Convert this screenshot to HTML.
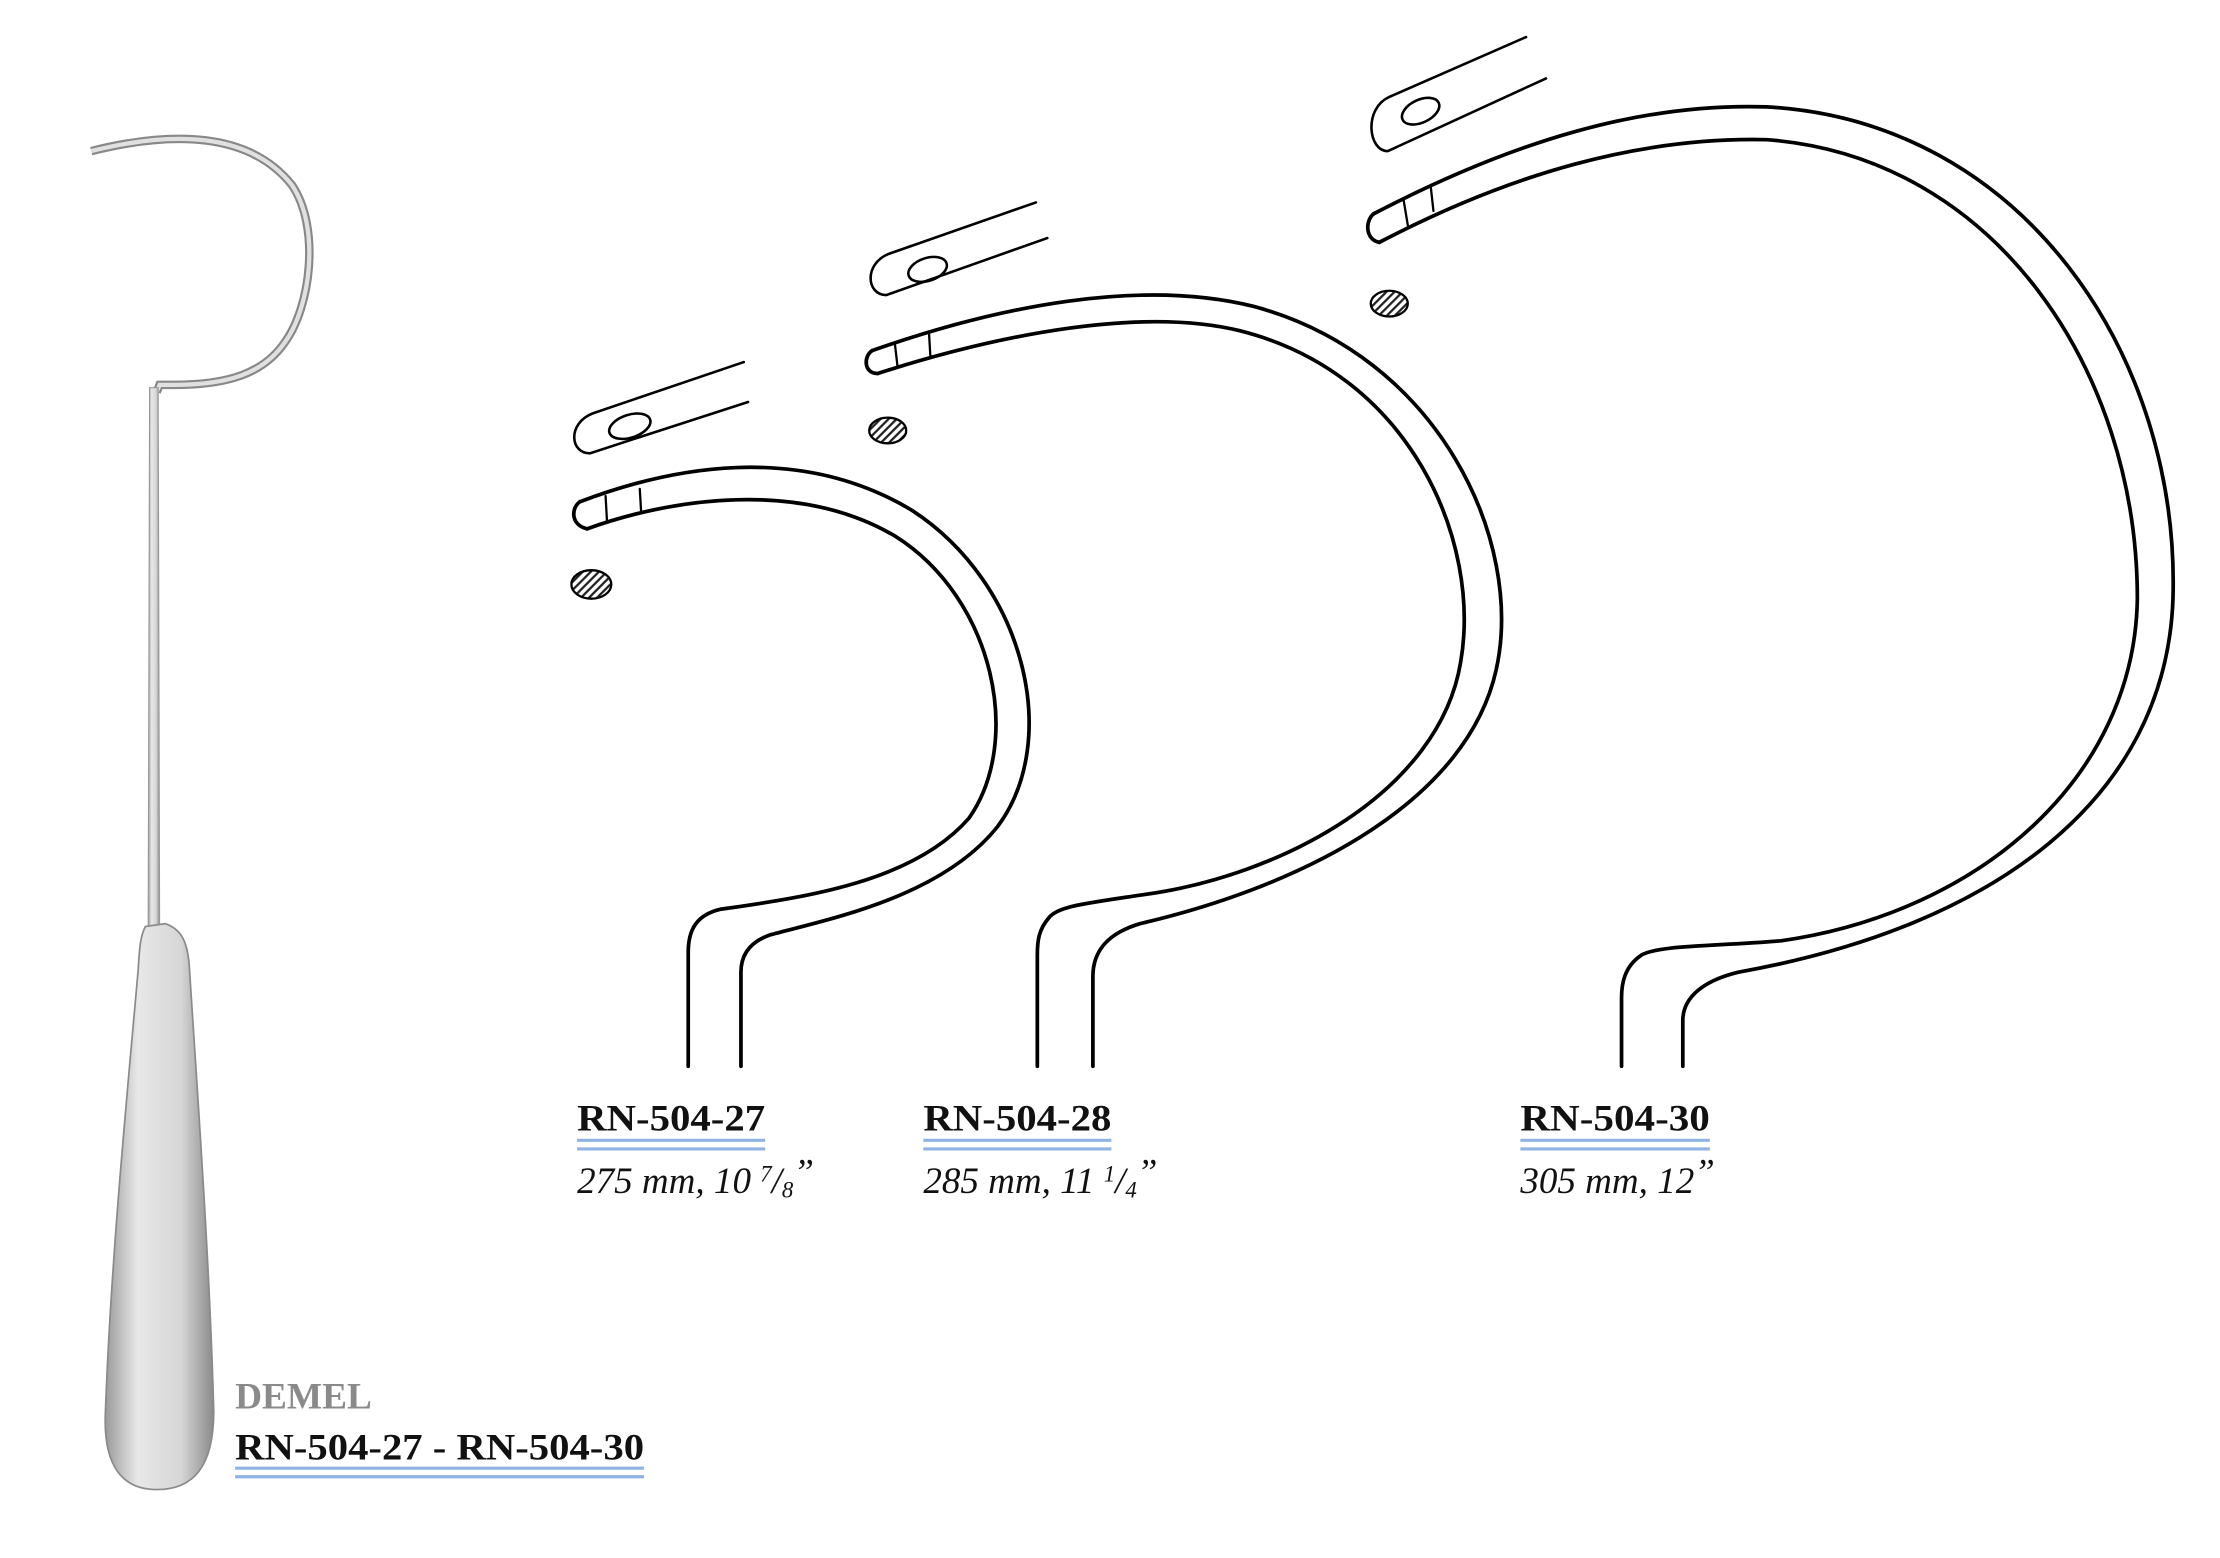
<!DOCTYPE html>
<html><head><meta charset="utf-8"><style>
html,body{margin:0;padding:0;background:#fff;}
svg{display:block;}
.t{font-family:"Liberation Serif",serif;}
</style></head><body>
<svg width="2220" height="1558" viewBox="0 0 1558 1093" preserveAspectRatio="none" xmlns="http://www.w3.org/2000/svg">
<defs>
<pattern id="h" width="4" height="4" patternUnits="userSpaceOnUse" patternTransform="rotate(45)"><rect width="4" height="4" fill="#fff"/><rect width="1.6" height="4" fill="#222"/></pattern>
<linearGradient id="g" x1="0" x2="1" y1="0" y2="0"><stop offset="0" stop-color="#9a9a9a"/><stop offset="0.3" stop-color="#e8e8e8"/><stop offset="0.7" stop-color="#d6d6d6"/><stop offset="1" stop-color="#8a8a8a"/></linearGradient>
</defs>
<rect width="1558" height="1093" fill="#fff"/>
<g>
<path d="M64,106 C120,92 175,92 205,130 C225,160 218,215 200,240 C185,262 160,270 122,270 L112,270 L110,275" fill="none" stroke="#888" stroke-width="6"/>
<path d="M64,106 C120,92 175,92 205,130 C225,160 218,215 200,240 C185,262 160,270 122,270 L112,270 L110,275" fill="none" stroke="#e0e0e0" stroke-width="3"/>
<path d="M105,272 L111,272 L112,650 L104,650 Z" fill="url(#g)" stroke="#999" stroke-width="0.8"/>
<path d="M102,650 C99,656 98,662 97,680 C90,760 78,880 74,990 C72,1030 87,1045 110,1045 C135,1045 150,1030 150,990 C147,880 138,760 133,680 C132,662 128,652 116,648 Z" fill="url(#g)" stroke="#8a8a8a" stroke-width="1.2"/>
</g>
<g fill="none" stroke="#000" stroke-width="2.6" stroke-linecap="round">
<!-- 27 -->
<path d="M407,352 C470,328 560,310 640,358 C720,410 745,520 700,580 C660,630 580,645 540,656 C526,661 520,670 520,682 L520,748"/>
<path d="M412,371 C470,350 560,336 628,376 C698,420 718,520 680,574 C640,620 560,630 505,638 C489,642 483,652 483,668 L483,748"/>
<path d="M407,352 C401,356 400,368 412,371"/>
<path d="M425,348 L426,366 M449,343 L450,360" stroke-width="1.6"/>
<path d="M522,254 L416,290 C398,297 400,318 414,318 L525,282" stroke-width="1.8"/>
<ellipse cx="442" cy="299" rx="15" ry="8" transform="rotate(-18 442 299)" stroke-width="1.8"/>
<!-- 28 -->
<path d="M612,246 C700,215 800,195 880,215 C1010,250 1070,380 1050,470 C1030,560 920,620 800,648 C780,654 767,665 767,685 L767,748"/>
<path d="M616,262 C700,235 800,215 870,232 C990,262 1040,380 1025,465 C1010,555 900,615 800,628 C760,634 742,636 736,644 C729,652 728,660 728,670 L728,748"/>
<path d="M612,246 C606,250 606,262 616,262"/>
<path d="M628,241 L630,258 M652,234 L653,251" stroke-width="1.6"/>
<path d="M727,142 L624,178 C606,185 608,207 622,207 L735,167" stroke-width="1.8"/>
<ellipse cx="651" cy="189" rx="14" ry="8" transform="rotate(-18 651 189)" stroke-width="1.8"/>
<!-- 30 -->
<path d="M964,150 C1060,100 1150,72 1240,75 C1420,85 1530,250 1525,420 C1520,560 1400,650 1220,682 C1195,688 1181,700 1181,716 L1181,748"/>
<path d="M968,170 C1060,122 1150,96 1240,98 C1400,110 1500,260 1500,420 C1498,545 1390,640 1250,660 C1200,664 1165,663 1152,670 C1140,678 1138,690 1138,700 L1138,748"/>
<path d="M964,150 C958,155 958,168 968,170"/>
<path d="M985,140 L988,158 M1004,130 L1006,148" stroke-width="1.6"/>
<path d="M1071,26 L975,68 C957,76 960,106 974,106 L1085,55" stroke-width="1.8"/>
<ellipse cx="997" cy="78" rx="14" ry="8" transform="rotate(-25 997 78)" stroke-width="1.8"/>
</g>
<g stroke="#000" stroke-width="1.6">
<ellipse cx="415" cy="410" rx="14" ry="10" fill="url(#h)"/>
<ellipse cx="623" cy="302" rx="13" ry="9" fill="url(#h)"/>
<ellipse cx="975" cy="213" rx="13" ry="9" fill="url(#h)"/>
</g>
<g class="t">
<text x="405" y="793" font-size="26" font-weight="bold" fill="#111" textLength="132" lengthAdjust="spacingAndGlyphs">RN-504-27</text>
<text x="648" y="793" font-size="26" font-weight="bold" fill="#111" textLength="132" lengthAdjust="spacingAndGlyphs">RN-504-28</text>
<text x="1067" y="793" font-size="26" font-weight="bold" fill="#111" textLength="133" lengthAdjust="spacingAndGlyphs">RN-504-30</text>
<text x="405" y="837" font-size="26" font-style="italic" fill="#111">275 mm, 10 <tspan font-size="16" dy="-8">7</tspan><tspan dy="8">/</tspan><tspan font-size="16" dy="3">8</tspan><tspan dy="-9">”</tspan></text>
<text x="648" y="837" font-size="26" font-style="italic" fill="#111">285 mm, 11 <tspan font-size="16" dy="-8">1</tspan><tspan dy="8">/</tspan><tspan font-size="16" dy="3">4</tspan><tspan dy="-9">”</tspan></text>
<text x="1067" y="837" font-size="26" font-style="italic" fill="#111">305 mm, 12<tspan dy="-6">”</tspan></text>
<text x="165" y="988" font-size="26" font-weight="bold" fill="#8a8a8a" textLength="96" lengthAdjust="spacingAndGlyphs">DEMEL</text>
<text x="165" y="1024" font-size="26" font-weight="bold" fill="#111" textLength="287" lengthAdjust="spacingAndGlyphs">RN-504-27 - RN-504-30</text>
</g>
<g stroke="#8fb4e4" stroke-width="2.2">
<path d="M405,800 H537 M405,806 H537"/>
<path d="M648,800 H780 M648,806 H780"/>
<path d="M1067,800 H1200 M1067,806 H1200"/>
<path d="M165,1030 H452 M165,1036 H452"/>
</g>
</svg>
</body></html>
